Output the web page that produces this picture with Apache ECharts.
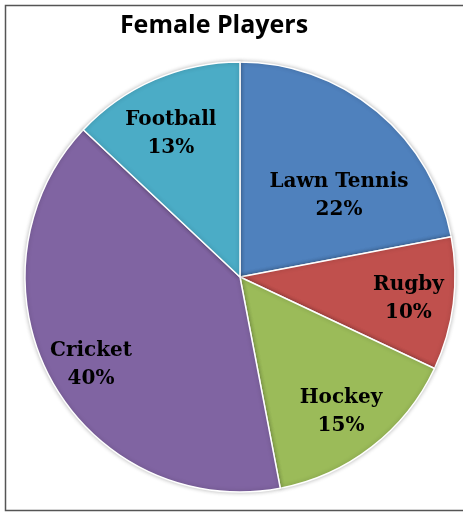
<!DOCTYPE html>
<html>
<head>
<meta charset="utf-8">
<script src="https://cdn.jsdelivr.net/npm/echarts@6/dist/echarts.min.js"></script>
<style>
html,body{margin:0;padding:0;background:#fff;}
#chart{width:463px;height:512px;}
</style>
</head>
<body>
<div id="chart"></div>
<script>
const titleText = 'Female Players';
const categories = ['Lawn Tennis', 'Rugby', 'Hockey', 'Cricket', 'Football'];
const values = [22, 10, 15, 40, 13];
const colors = ['#4F81BD', '#C0504D', '#9BBB59', '#8064A2', '#4BACC6'];

const CX = 240, CY = 277, R = 215;
// label placement: [angle clockwise from top (deg), fraction of radius]
const labelSpots = [[50.7, 0.595], [97.4, 0.79], [143.2, 0.784], [239.4, 0.805], [334.2, 0.739]];

const chart = echarts.init(document.getElementById('chart'), null, {renderer: 'canvas'});
chart.setOption({
  backgroundColor: '#fff',
  animation: false,
  title: {
    text: titleText,
    left: 209, top: 8, textAlign: 'center',
    textStyle: {fontFamily: 'Open Sans', fontWeight: 'bold', fontSize: 25, color: '#000'}
  },
  graphic: [{
    type: 'rect', silent: true,
    shape: {x: 5.5, y: 5.5, width: 470, height: 505},
    style: {fill: 'none', stroke: '#555', lineWidth: 1.5}
  }],
  series: [{
    type: 'pie',
    center: [CX, CY],
    radius: R,
    startAngle: 90,
    clockwise: true,
    avoidLabelOverlap: false,
    itemStyle: {borderColor: '#fff', borderWidth: 1.5, shadowBlur: 4, shadowColor: 'rgba(0,0,0,0.25)'},
    label: {
      show: true,
      position: 'inside',
      formatter: p => p.name + '\n' + p.value + '%',
      fontFamily: 'DejaVu Serif',
      fontWeight: 'bold',
      fontSize: 20,
      lineHeight: 28,
      color: '#000',
      align: 'center'
    },
    labelLine: {show: false},
    labelLayout: p => {
      const s = labelSpots[p.dataIndex];
      const a = s[0] * Math.PI / 180;
      return {
        x: CX + R * s[1] * Math.sin(a),
        y: CY - R * s[1] * Math.cos(a),
        align: 'center',
        verticalAlign: 'middle'
      };
    },
    data: categories.map((c, i) => ({name: c, value: values[i], itemStyle: {color: colors[i]}}))
  }]
});
</script>
</body>
</html>
